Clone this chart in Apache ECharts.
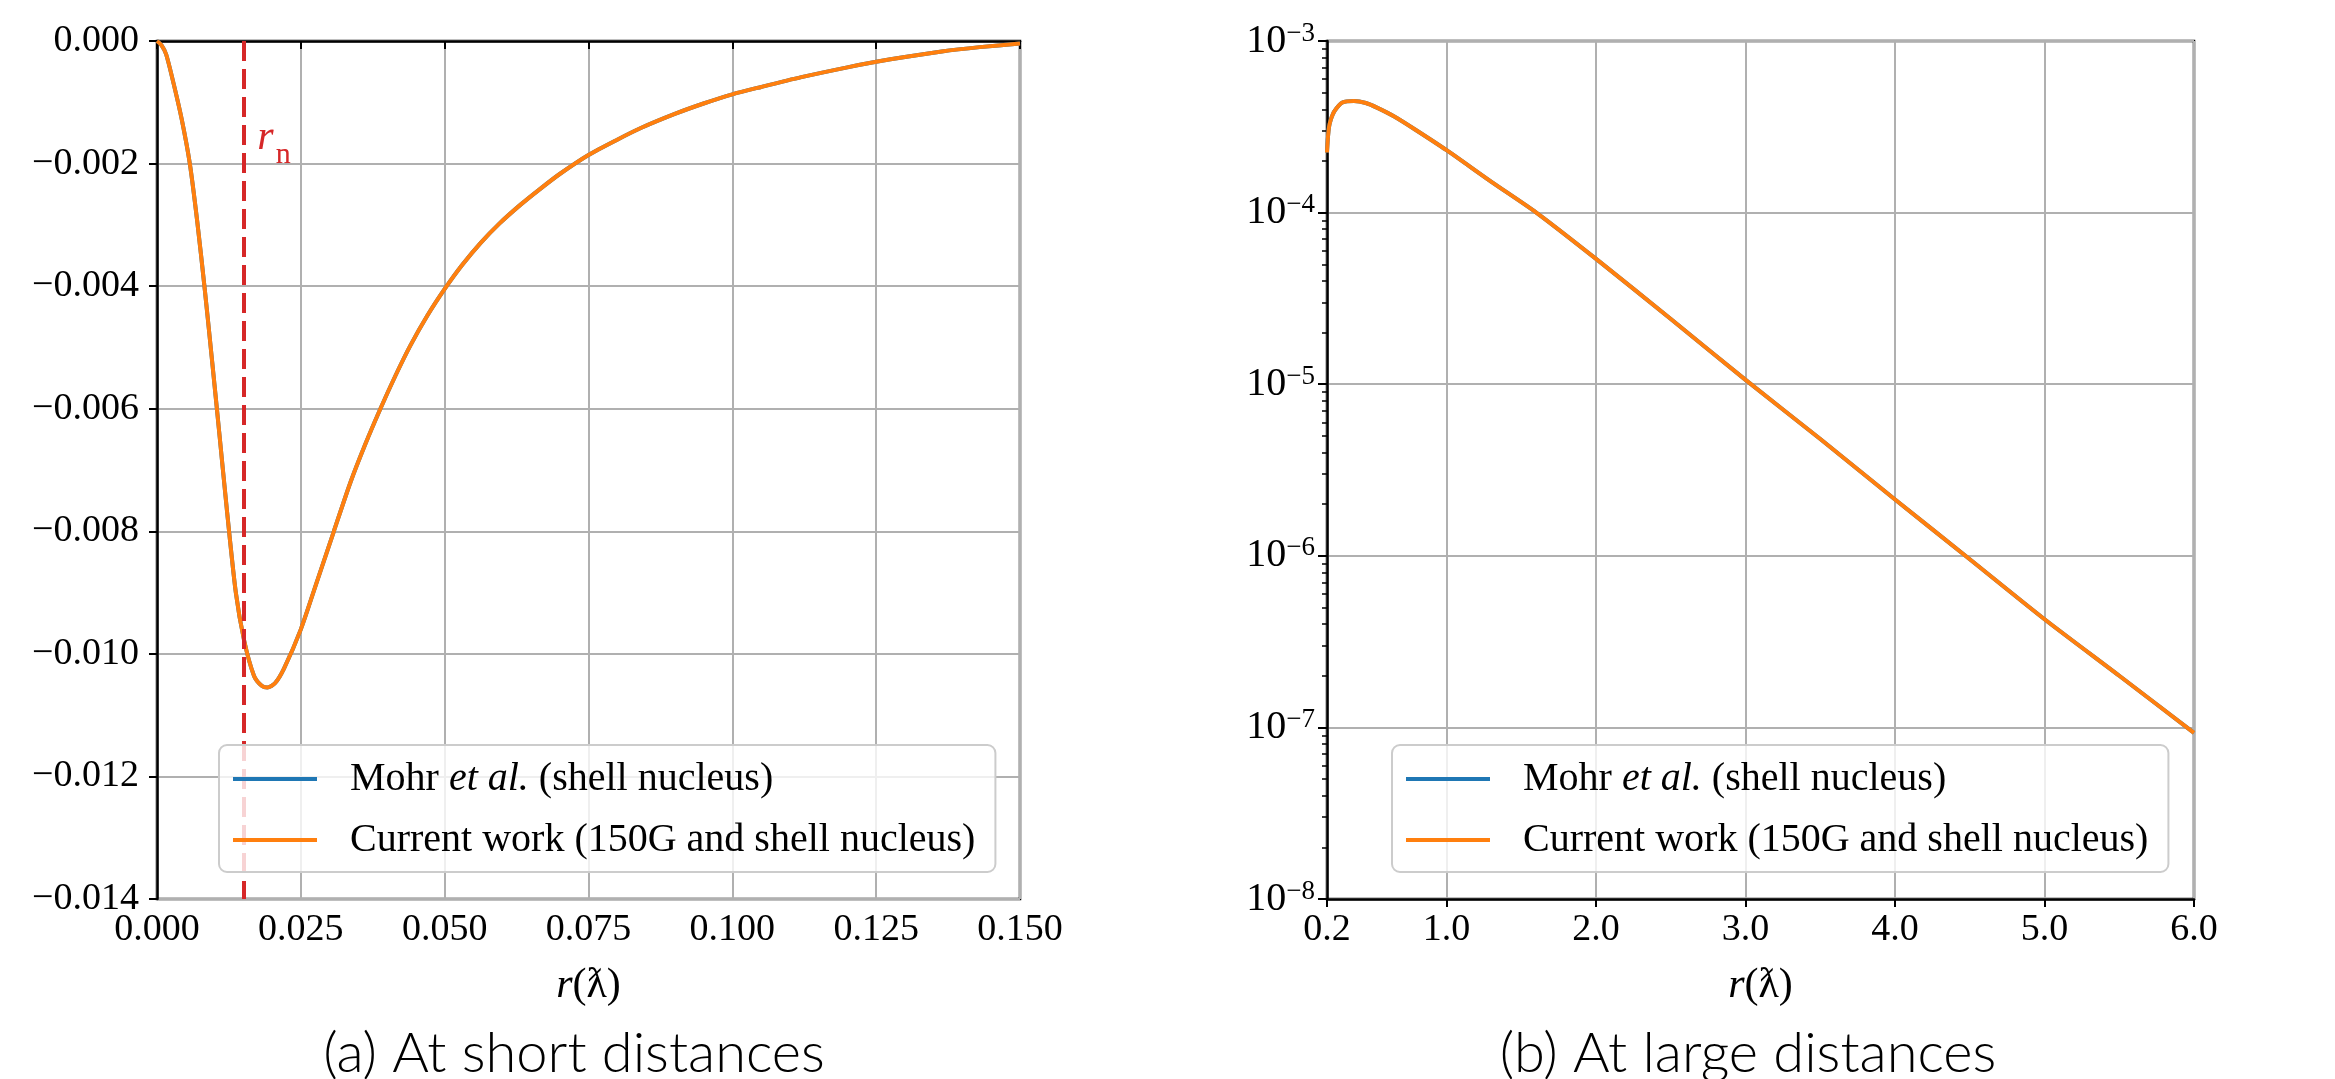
<!DOCTYPE html>
<html>
<head>
<meta charset="utf-8">
<script src="https://cdn.jsdelivr.net/npm/echarts@6/dist/echarts.min.js"></script>
</head>
<body style="margin:0; background:#fff">
<div id="main" style="width:2335px;height:1079px"></div>
<script type="text/javascript">
// (a) short distances
var shortR = [0, 0.0008, 0.0016, 0.0029, 0.0043, 0.0057, 0.0070, 0.0083, 0.0095, 0.0108, 0.0122, 0.0137,
    0.01514, 0.01687, 0.0182, 0.01918, 0.0205, 0.02207, 0.025, 0.0277, 0.03074, 0.03363, 0.0362, 0.03883,
    0.0415, 0.04403, 0.047, 0.04998, 0.053, 0.0563, 0.0595, 0.0632, 0.0665, 0.070, 0.075, 0.080, 0.0841,
    0.090, 0.095, 0.100, 0.105, 0.112, 0.120, 0.125, 0.130, 0.1364, 0.143, 0.150];
var mohrShort = [0, -0.00007, -0.00022, -0.0007, -0.00128, -0.0020, -0.00295, -0.00405, -0.00515, -0.00637, -0.0077, -0.00900,
    -0.00978, -0.01036, -0.01052, -0.01055, -0.01048, -0.01024, -0.0096, -0.00885, -0.0080, -0.0072, -0.00658, -0.0060,
    -0.00545, -0.00497, -0.00448, -0.00405, -0.00366, -0.00329, -0.00298, -0.00267, -0.00242, -0.00217, -0.00186, -0.00161, -0.00142,
    -0.00119, -0.00102, -0.00087, -0.00075, -0.00059, -0.00043, -0.00034, -0.00026, -0.00017, -0.00010, -0.00004];
var currentShort = [0, -0.00007, -0.00022, -0.0007, -0.00128, -0.0020, -0.00295, -0.00405, -0.00515, -0.00637, -0.0077, -0.00900,
    -0.00978, -0.01036, -0.01052, -0.01055, -0.01048, -0.01024, -0.0096, -0.00885, -0.0080, -0.0072, -0.00658, -0.0060,
    -0.00545, -0.00497, -0.00448, -0.00405, -0.00366, -0.00329, -0.00298, -0.00267, -0.00242, -0.00217, -0.00186, -0.00161, -0.00142,
    -0.00119, -0.00102, -0.00087, -0.00075, -0.00059, -0.00043, -0.00034, -0.00026, -0.00017, -0.00010, -0.00004];
var rn = 0.015;
var shortYMin = -0.014;
var shortYMax = 0;

// (b) large distances
var longR = [0.2, 0.205, 0.213, 0.225, 0.251, 0.303, 0.38, 0.46, 0.534, 0.65, 0.789, 1.0, 1.3, 1.6, 2.0, 2.5,
    3.0, 3.5, 4.0, 4.5, 5.0, 5.5, 6.0];
var mohrLong = [2.24e-4, 2.65e-4, 3.13e-4, 3.47e-4, 3.91e-4, 4.38e-4, 4.47e-4, 4.35e-4, 4.09e-4, 3.63e-4, 3.05e-4, 2.31e-4,
    1.51e-4, 1.0e-4, 5.37e-5, 2.40e-5, 1.06e-5, 4.79e-6, 2.13e-6, 9.55e-7, 4.27e-7, 2.0e-7, 9.3e-8];
var currentLong = [2.24e-4, 2.65e-4, 3.13e-4, 3.47e-4, 3.91e-4, 4.38e-4, 4.47e-4, 4.35e-4, 4.09e-4, 3.63e-4, 3.05e-4, 2.31e-4,
    1.51e-4, 1.0e-4, 5.37e-5, 2.40e-5, 1.06e-5, 4.79e-6, 2.13e-6, 9.55e-7, 4.27e-7, 2.0e-7, 9.3e-8];
var longTicks = [0.2, 1, 2, 3, 4, 5, 6];

var names = ['Mohr et al. (shell nucleus)', 'Current work (150G and shell nucleus)'];

// minor ticks of the log axis (2..9 x 10^n)
var minorTicks = [];
for (var e = -8; e < -3; e++) {
    for (var m = 2; m < 10; m++) minorTicks.push(m * Math.pow(10, e));
}

function pairs(xs, ys) {
    return xs.map(function (x, i) { return [x, ys[i]]; });
}

var serif = 'Liberation Serif, DejaVu Serif, serif';
var axisLine = {show: true, lineStyle: {color: '#000', width: 2.5}};
var gridLine = {show: true, lineStyle: {color: '#b0b0b0', width: 2}};

var legendRich = {
    pad: {width: 28, fontFamily: serif, fontSize: 40},
    t: {fontFamily: serif, fontSize: 40, color: '#000', lineHeight: 44},
    i: {fontFamily: serif, fontSize: 40, fontStyle: 'italic', color: '#000', lineHeight: 44}
};
function legendFmt(name) {
    if (name === names[0]) return '{pad|}{t|Mohr }{i|et al.}{t| (shell nucleus)}';
    return '{pad|}{t|' + name + '}';
}
function makeLegend(left) {
    return {
        left: left, top: 745, orient: 'vertical',
        data: names, icon: 'rect', itemWidth: 84, itemHeight: 4, itemGap: 21,
        padding: [14, 20, 12, 14],
        backgroundColor: 'rgba(255,255,255,0.8)', borderColor: '#cccccc', borderWidth: 2, borderRadius: 8,
        textStyle: {rich: legendRich}, formatter: legendFmt, selectedMode: false, z: 10
    };
}
var nameStyle = {
    fontFamily: serif, fontSize: 42, color: '#000',
    rich: {i: {fontFamily: serif, fontSize: 42, fontStyle: 'italic'}}
};

var dom = document.getElementById('main');
var myChart = echarts.init(dom);
var option = {
    animation: false,
    color: ['#1f77b4', '#ff7f0e'],
    grid: [
        {left: 157, top: 41, width: 863, height: 858, show: true, borderColor: '#000', borderWidth: 2.5},
        {left: 1327, top: 41, width: 867, height: 858, show: true, borderColor: '#000', borderWidth: 2.5}
    ],
    legend: [makeLegend(219), makeLegend(1392)],
    xAxis: [
        {
            type: 'value', gridIndex: 0, min: 0, max: 0.15, interval: 0.025,
            axisLine: axisLine, axisTick: {show: true, length: 8, lineStyle: {width: 2}},
            axisLabel: {margin: 12, formatter: function (v) { return v.toFixed(3); }, fontFamily: serif, fontSize: 38, color: '#000'},
            splitLine: gridLine,
            name: '{i|r}(ƛ)', nameLocation: 'middle', nameGap: 66, nameTextStyle: nameStyle
        },
        {
            type: 'value', gridIndex: 1, min: 0.2, max: 6,
            axisLine: axisLine, axisTick: {show: true, length: 8, lineStyle: {width: 2}, customValues: longTicks},
            axisLabel: {margin: 12, customValues: longTicks, formatter: function (v) { return v.toFixed(1); }, fontFamily: serif, fontSize: 38, color: '#000'},
            splitLine: gridLine,
            name: '{i|r}(ƛ)', nameLocation: 'middle', nameGap: 66, nameTextStyle: nameStyle
        }
    ],
    yAxis: [
        {
            type: 'value', gridIndex: 0, min: shortYMin, max: shortYMax, interval: 0.002,
            axisLine: axisLine, axisTick: {show: true, length: 8, lineStyle: {width: 2}},
            axisLabel: {
                margin: 18, fontFamily: serif, fontSize: 38, color: '#000',
                formatter: function (v) { return v === 0 ? '0.000' : '\u2212' + Math.abs(v).toFixed(3); }
            },
            splitLine: gridLine
        },
        {
            type: 'log', gridIndex: 1, logBase: 10, min: 1e-8, max: 1e-3, splitNumber: 5,
            axisLine: axisLine, axisTick: {show: true, length: 9, lineStyle: {width: 2}},
            axisLabel: {
                margin: 12,
                formatter: function (v) {
                    var p = Math.round(Math.log10(v));
                    return '{b|10}{e|\u2212' + Math.abs(p) + '}';
                },
                rich: {
                    b: {fontFamily: serif, fontSize: 40, color: '#000', lineHeight: 42},
                    e: {fontFamily: serif, fontSize: 27, color: '#000', verticalAlign: 'top', lineHeight: 22}
                }
            },
            splitLine: gridLine
        },
        {
            type: 'log', gridIndex: 1, logBase: 10, min: 1e-8, max: 1e-3, position: 'left', offset: 0,
            axisLine: {show: false},
            axisTick: {show: true, length: 5, lineStyle: {width: 1.5, color: '#000'}, customValues: minorTicks},
            axisLabel: {show: false},
            splitLine: {show: false}
        }
    ],
    series: [
        {
            name: names[0], type: 'line', xAxisIndex: 0, yAxisIndex: 0, showSymbol: false, smooth: 0.25,
            lineStyle: {width: 4, color: '#1f77b4'}, itemStyle: {color: '#1f77b4'},
            data: pairs(shortR, mohrShort)
        },
        {
            name: names[1], type: 'line', xAxisIndex: 0, yAxisIndex: 0, showSymbol: false, smooth: 0.25,
            lineStyle: {width: 4, color: '#ff7f0e'}, itemStyle: {color: '#ff7f0e'},
            data: pairs(shortR, currentShort),
            markLine: {
                silent: true, symbol: 'none', label: {show: false},
                lineStyle: {color: '#d62728', type: [20, 8], width: 4},
                data: [[{coord: [rn, shortYMax]}, {coord: [rn, shortYMin]}]]
            },
            markPoint: {
                silent: true, symbol: 'circle', symbolSize: 0,
                data: [{coord: [rn, -0.00158]}],
                label: {
                    show: true, position: 'right', distance: 14,
                    formatter: '{r|r}{n|n}',
                    rich: {
                        r: {fontFamily: serif, fontSize: 42, fontStyle: 'italic', color: '#d62728', lineHeight: 40},
                        n: {fontFamily: serif, fontSize: 30, color: '#d62728', verticalAlign: 'bottom', lineHeight: 22, padding: [0, 0, -12, 2]}
                    }
                }
            }
        },
        {
            name: names[0], type: 'line', xAxisIndex: 1, yAxisIndex: 1, showSymbol: false, smooth: 0.25,
            lineStyle: {width: 4, color: '#1f77b4'}, itemStyle: {color: '#1f77b4'},
            data: pairs(longR, mohrLong)
        },
        {
            name: names[1], type: 'line', xAxisIndex: 1, yAxisIndex: 1, showSymbol: false, smooth: 0.25,
            lineStyle: {width: 4, color: '#ff7f0e'}, itemStyle: {color: '#ff7f0e'},
            data: pairs(longR, currentLong)
        }
    ],
    graphic: [
        {type: 'text', x: 574, y: 1054, style: {text: '(a) At short distances', fontFamily: 'Lato, Open Sans, sans-serif', fontWeight: 300, fontSize: 56, fill: '#000', align: 'center', verticalAlign: 'middle'}},
        {type: 'text', x: 1748, y: 1054, style: {text: '(b) At large distances', fontFamily: 'Lato, Open Sans, sans-serif', fontWeight: 300, fontSize: 56, fill: '#000', align: 'center', verticalAlign: 'middle'}}
    ]
};
myChart.setOption(option);
</script>
</body>
</html>
